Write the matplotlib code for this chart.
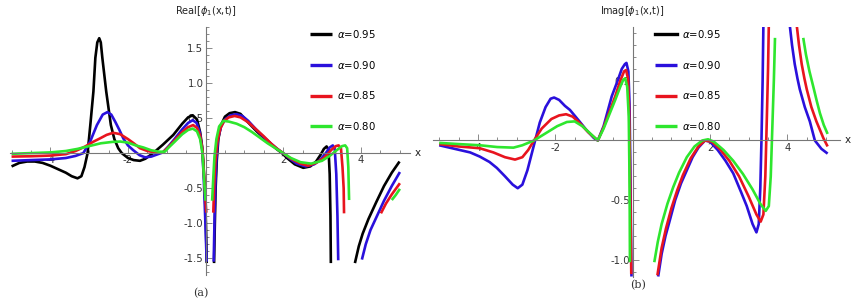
""" Real and Imag parts of phi_1(x,t) for several alpha values """
import matplotlib.pyplot as plt
from matplotlib.ticker import MultipleLocator, FixedLocator, FormatStrFormatter

plt.rcParams['font.family'] = ['DejaVu Sans']
plt.rcParams['mathtext.fontset'] = 'dejavusans'

alphas = ['0.95', '0.90', '0.85', '0.80']
colors = ['#000000', '#2a10dc', '#e8141e', '#2ee62e']

# ---- panel (a): Real part, each curve is split into branches at the poles
real_095 = [
    ([-5.0, -4.8, -4.6, -4.4, -4.2, -4.0, -3.8, -3.6, -3.45, -3.3, -3.2, -3.12, -3.04, -2.97,
      -2.89, -2.84, -2.79, -2.74, -2.7, -2.66, -2.56, -2.44, -2.35, -2.25, -2.16, -2.0, -1.85,
      -1.69, -1.55, -1.45, -1.35, -1.1, -0.83, -0.6, -0.45, -0.33, -0.22, -0.14, -0.09, -0.06,
      -0.02, 0.01, 0.03],
     [-0.19, -0.14, -0.12, -0.12, -0.14, -0.18, -0.23, -0.28, -0.33, -0.36, -0.33, -0.2, 0.0, 0.4,
      0.88, 1.36, 1.58, 1.64, 1.58, 1.36, 0.88, 0.40, 0.2, 0.07, 0.0, -0.07, -0.1,
      -0.11, -0.08, -0.04, 0.0, 0.12, 0.26, 0.42, 0.51, 0.54, 0.48, 0.3, 0.1, -0.1,
      -0.5, -1.0, -1.57]),
    ([0.22, 0.24, 0.26, 0.29, 0.33, 0.4, 0.5, 0.62, 0.76, 0.9, 1.06, 1.32, 1.5, 1.7, 1.85, 1.97,
      2.1, 2.3, 2.52, 2.7, 2.85, 2.97, 3.05, 3.12, 3.17, 3.2, 3.22, 3.23],
     [-1.57, -1.0, -0.5, -0.1, 0.2, 0.4, 0.52, 0.57, 0.585, 0.56, 0.46, 0.31, 0.22, 0.12, 0.05, 0.0,
      -0.07, -0.16, -0.21, -0.19, -0.12, -0.02, 0.06, 0.095, 0.05, -0.3, -0.9, -1.57]),
    ([3.85, 3.95, 4.05, 4.2, 4.4, 4.6, 4.8, 5.0],
     [-1.57, -1.33, -1.15, -0.94, -0.7, -0.47, -0.28, -0.12]),
]
real_090 = [
    ([-5.0, -4.5, -4.0, -3.6, -3.35, -3.15, -2.97, -2.8, -2.65, -2.53, -2.43, -2.33, -2.22,
      -2.12, -2.0, -1.86, -1.7, -1.56, -1.4, -1.25, -1.1, -0.95, -0.8, -0.6, -0.45, -0.33,
      -0.23, -0.15, -0.09, -0.05, -0.01, 0.03],
     [-0.11, -0.1, -0.09, -0.07, -0.04, 0.0, 0.17, 0.40, 0.55, 0.585, 0.55, 0.45, 0.33,
      0.21, 0.11, 0.04, -0.03, -0.06, -0.05, -0.02, 0.01, 0.1, 0.2, 0.34, 0.43, 0.47,
      0.43, 0.3, 0.08, -0.3, -0.9, -1.55]),
    ([0.21, 0.23, 0.25, 0.28, 0.32, 0.4, 0.5, 0.65, 0.8, 0.95, 1.1, 1.3, 1.5, 1.7, 1.85, 2.0,
      2.15, 2.35, 2.58, 2.8, 2.95, 3.1, 3.2, 3.28, 3.33, 3.37, 3.4, 3.42],
     [-1.55, -1.0, -0.5, -0.1, 0.2, 0.38, 0.48, 0.54, 0.555, 0.53, 0.46, 0.34, 0.23, 0.13, 0.06, 0.0,
      -0.07, -0.15, -0.19, -0.16, -0.1, 0.0, 0.08, 0.11, 0.06, -0.3, -0.9, -1.53]),
    ([4.03, 4.13, 4.25, 4.4, 4.6, 4.8, 5.01],
     [-1.52, -1.3, -1.1, -0.92, -0.68, -0.47, -0.27]),
]
real_085 = [
    ([-5.0, -4.5, -4.0, -3.6, -3.35, -3.1, -2.9, -2.72, -2.55, -2.38, -2.2, -2.0, -1.85, -1.69,
      -1.5, -1.3, -1.1, -0.95, -0.8, -0.6, -0.45, -0.32, -0.22, -0.14, -0.08, -0.04, -0.01, 0.02],
     [-0.05, -0.045, -0.035, -0.015, 0.03, 0.095, 0.16, 0.21, 0.26, 0.29, 0.27, 0.2, 0.14, 0.07,
      0.03, 0.01, 0.01, 0.09, 0.18, 0.3, 0.37, 0.4, 0.36, 0.25, 0.05, -0.3, -0.6, -0.85]),
    ([0.2, 0.22, 0.25, 0.3, 0.38, 0.48, 0.6, 0.75, 0.9, 1.1, 1.3, 1.5, 1.7, 1.85, 2.0, 2.2,
      2.45, 2.64, 2.85, 3.05, 3.25, 3.36, 3.43, 3.49, 3.53, 3.56, 3.57],
     [-0.85, -0.5, -0.15, 0.15, 0.35, 0.46, 0.51, 0.53, 0.51, 0.44, 0.34, 0.24, 0.13, 0.06, 0.0,
      -0.08, -0.15, -0.18, -0.14, -0.07, 0.05, 0.1, 0.11, 0.07, -0.2, -0.5, -0.86]),
    ([4.52, 4.65, 4.8, 5.01],
     [-0.86, -0.72, -0.59, -0.43]),
]
real_080 = [
    ([-5.0, -4.5, -4.0, -3.6, -3.3, -3.0, -2.7, -2.4, -2.2, -2.0, -1.8, -1.6, -1.4, -1.2, -1.05,
      -0.95, -0.8, -0.6, -0.45, -0.33, -0.22, -0.14, -0.08, -0.04, 0.0],
     [-0.01, 0.0, 0.01, 0.03, 0.06, 0.1, 0.14, 0.16, 0.165, 0.15, 0.11, 0.08, 0.04, 0.02, 0.02,
      0.08, 0.16, 0.27, 0.33, 0.35, 0.31, 0.2, 0.0, -0.35, -0.68]),
    ([0.17, 0.2, 0.23, 0.28, 0.35, 0.46, 0.6, 0.8, 1.0, 1.2, 1.4, 1.6, 1.8, 2.0, 2.2, 2.45,
      2.72, 3.0, 3.2, 3.4, 3.52, 3.6, 3.65, 3.68, 3.7],
     [-0.68, -0.35, -0.05, 0.2, 0.38, 0.46, 0.45, 0.42, 0.37, 0.3, 0.22, 0.14, 0.07, 0.0, -0.07,
      -0.13, -0.15, -0.11, -0.04, 0.05, 0.1, 0.11, 0.07, -0.2, -0.67]),
    ([4.8, 4.9, 5.01],
     [-0.67, -0.6, -0.51]),
]

# ---- panel (b): Imag part (no black curve drawn in the original)
imag_090 = [
    ([-5.0, -4.6, -4.2, -3.95, -3.7, -3.51, -3.3, -3.1, -2.97, -2.85, -2.72, -2.6, -2.52, -2.4,
      -2.25, -2.12, -2.03, -1.9, -1.75, -1.62, -1.4, -1.2, -1.0, -0.9, -0.75, -0.54, -0.4,
      -0.28, -0.2, -0.16, -0.11, -0.08, -0.06, -0.045, -0.03],
     [-0.04, -0.07, -0.1, -0.135, -0.18, -0.23, -0.3, -0.37, -0.4, -0.37, -0.25, -0.1, 0.0, 0.15,
      0.28, 0.35, 0.36, 0.34, 0.29, 0.256, 0.17, 0.09, 0.02, 0.0, 0.12, 0.37, 0.49,
      0.6, 0.64, 0.65, 0.58, 0.3, -0.2, -0.7, -1.14]),
    ([0.66, 0.75, 0.85, 0.96, 1.1, 1.25, 1.4, 1.55, 1.7, 1.87, 2.0, 2.2, 2.4, 2.6, 2.8, 2.95,
      3.1, 3.2, 3.26, 3.3, 3.33, 3.36, 3.38],
     [-1.14, -0.95, -0.8, -0.67, -0.5, -0.36, -0.25, -0.14, -0.06, 0.0, -0.01, -0.08, -0.17,
      -0.275, -0.43, -0.55, -0.7, -0.77, -0.7, -0.4, 0.0, 0.5, 0.97]),
    ([4.06, 4.12, 4.19, 4.26, 4.32, 4.45, 4.58, 4.71, 4.88, 5.04],
     [0.97, 0.8, 0.64, 0.52, 0.43, 0.28, 0.16, 0.0, -0.07, -0.11]),
]
imag_085 = [
    ([-5.0, -4.5, -3.95, -3.6, -3.3, -3.04, -2.85, -2.7, -2.55, -2.35, -2.1, -1.9, -1.72, -1.55,
      -1.35, -1.15, -0.9, -0.75, -0.6, -0.45, -0.32, -0.22, -0.17, -0.12, -0.09, -0.065, -0.05,
      -0.035],
     [-0.03, -0.05, -0.065, -0.1, -0.14, -0.16, -0.14, -0.08, 0.0, 0.1, 0.18, 0.21, 0.22, 0.2,
      0.14, 0.07, 0.0, 0.11, 0.24, 0.37, 0.5, 0.58, 0.59, 0.52, 0.25, -0.3, -0.7, -1.12]),
    ([0.64, 0.75, 0.86, 1.0, 1.15, 1.3, 1.5, 1.7, 1.87, 2.05, 2.25, 2.5, 2.75, 3.0, 3.2, 3.31,
      3.38, 3.43, 3.47, 3.5, 3.52],
     [-1.13, -0.9, -0.74, -0.57, -0.42, -0.29, -0.15, -0.05, 0.0, -0.01, -0.07, -0.17, -0.3,
      -0.47, -0.62, -0.68, -0.62, -0.3, 0.2, 0.6, 0.97]),
    ([4.24, 4.3, 4.37, 4.44, 4.5, 4.62, 4.75, 4.93, 5.04],
     [0.97, 0.8, 0.64, 0.52, 0.43, 0.28, 0.16, 0.02, -0.05]),
]
imag_080 = [
    ([-5.0, -4.5, -3.95, -3.5, -3.08, -2.85, -2.55, -2.25, -1.95, -1.7, -1.5, -1.3, -1.1, -0.9,
      -0.75, -0.6, -0.45, -0.32, -0.24, -0.19, -0.14, -0.1, -0.085, -0.075, -0.07],
     [-0.02, -0.03, -0.04, -0.055, -0.06, -0.04, 0.0, 0.06, 0.12, 0.155, 0.16, 0.12, 0.06, 0.0,
      0.1, 0.22, 0.34, 0.45, 0.51, 0.52, 0.45, 0.2, -0.2, -0.6, -1.02]),
    ([0.56, 0.65, 0.75, 0.9, 1.05, 1.2, 1.4, 1.6, 1.8, 1.95, 2.1, 2.35, 2.6, 2.85, 3.1, 3.3,
      3.44, 3.52, 3.57, 3.61, 3.65, 3.68],
     [-1.02, -0.85, -0.7, -0.53, -0.39, -0.27, -0.14, -0.05, 0.0, 0.01, -0.01, -0.08, -0.17,
      -0.28, -0.41, -0.53, -0.59, -0.55, -0.3, 0.1, 0.5, 0.86]),
    ([4.41, 4.48, 4.57, 4.67, 4.76, 4.84, 4.94, 5.04],
     [0.86, 0.72, 0.58, 0.45, 0.33, 0.23, 0.13, 0.055]),
]

real_curves = [real_095, real_090, real_085, real_080]
imag_curves = [[], imag_090, imag_085, imag_080]

fig = plt.figure(figsize=(8.54, 3.04), dpi=100)
W, H = 854.0, 304.0
# axes placed in pixel units of the original picture
ax1 = fig.add_axes([10 / W, (H - 275) / H, 400 / W, 248 / H])
ax2 = fig.add_axes([433 / W, (H - 277) / H, 407 / W, 250 / H])


def style_axes(ax, xlim, ylim, yticks, ylabel):
    ax.set_xlim(*xlim)
    ax.set_ylim(*ylim)
    for s in ['top', 'right']:
        ax.spines[s].set_visible(False)
    for s in ['left', 'bottom']:
        ax.spines[s].set_position(('data', 0))
        ax.spines[s].set_color('#777777')
        ax.spines[s].set_linewidth(0.8)
    ax.xaxis.set_major_locator(FixedLocator([-4, -2, 2, 4]))
    ax.xaxis.set_minor_locator(MultipleLocator(0.5))
    ax.yaxis.set_major_locator(FixedLocator(yticks))
    ax.yaxis.set_minor_locator(MultipleLocator(0.1))
    ax.xaxis.set_major_formatter(FormatStrFormatter('%d'))
    ax.yaxis.set_major_formatter(FormatStrFormatter('%.1f'))
    ax.tick_params(which='both', direction='in', color='#777777', labelsize=7.3,
                   labelcolor='#333333', width=0.6)
    ax.tick_params(which='major', length=4, pad=1.5)
    ax.tick_params(which='minor', length=2.2)
    ax.patch.set_alpha(0)
    # axis labels in Mathematica style: at the top of the y axis and right of the x axis
    ax.text(0, 1.035, ylabel, transform=ax.get_xaxis_transform(), ha='center', va='bottom',
            fontsize=7, color='#222222')
    ax.text(1.012, 0, 'x', transform=ax.get_yaxis_transform(), ha='left', va='center',
            fontsize=7.5, color='#222222')


style_axes(ax1, (-5.04, 5.27), (-1.74, 1.80), [-1.5, -1.0, -0.5, 0.5, 1.0, 1.5],
           r'Real[$\phi_1$(x,t)]')
style_axes(ax2, (-5.16, 5.36), (-1.144, 0.951), [-1.0, -0.5, 0.5],
           r'Imag[$\phi_1$(x,t)]')

for branches, col, a in zip(real_curves, colors, alphas):
    for i, (xs, ys) in enumerate(branches):
        ax1.plot(xs, ys, color=col, lw=1.9, solid_capstyle='butt',
                 label=r'$\alpha$=' + a if i == 0 else None)

for branches, col, a in zip(imag_curves, colors, alphas):
    if not branches:
        ax2.plot([], [], color=col, lw=1.9, label=r'$\alpha$=' + a)
    for i, (xs, ys) in enumerate(branches):
        ax2.plot(xs, ys, color=col, lw=1.9, solid_capstyle='butt',
                 label=r'$\alpha$=' + a if i == 0 else None)

for ax, anchor in [(ax1, (0.75, 0.997)), (ax2, (0.545, 0.997))]:
    leg = ax.legend(loc='upper left', bbox_to_anchor=anchor, frameon=False, fontsize=7.3,
                    handlelength=2.2, handletextpad=0.5, labelspacing=1.85, borderpad=0,
                    borderaxespad=0)
    for line in leg.get_lines():
        line.set_linewidth(2.4)

fig.text(201 / W, 1 - 293 / H, '(a)', ha='center', va='center', family='DejaVu Serif',
         fontsize=8, color='#333333')
fig.text(638 / W, 1 - 285 / H, '(b)', ha='center', va='center', family='DejaVu Serif',
         fontsize=8, color='#333333')

plt.savefig('out.png', dpi=100)
